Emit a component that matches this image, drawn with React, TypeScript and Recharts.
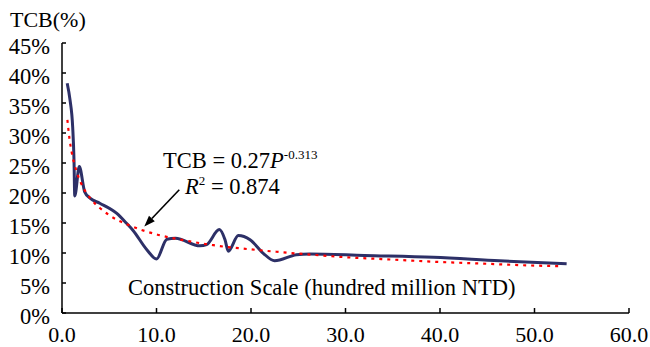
import React from "react";
import { LineChart, Line, XAxis, YAxis, ReferenceLine } from "recharts";

// construction scale (hundred million NTD) and TCB (%) along the observed curve
const scaleX = [0.55, 0.85, 1.13, 1.27, 1.35, 1.83, 2.4, 3.0, 4.0, 5.8, 6.8, 7.5, 9.0, 10.0, 11.1, 12.0, 14.6, 15.3, 16.65, 17.25, 17.6, 18.66, 19.9, 21.3, 22.5, 24.8, 26.2, 32.0, 39.3, 46.3, 53.4];
const tcbPct = [38.3, 35.5, 31.0, 25.5, 19.5, 24.4, 20.2, 19.1, 18.3, 16.6, 15.0, 13.8, 10.5, 9.0, 12.3, 12.45, 11.2, 11.4, 13.9, 12.2, 10.3, 12.9, 12.2, 9.95, 8.7, 9.7, 9.85, 9.6, 9.3, 8.7, 8.2];

// power fit TCB = 0.27 P^-0.313
const fitX = [0.57, 0.8, 1, 1.5, 2, 3, 4, 5, 7, 10, 13, 16, 20, 25, 30, 35, 40, 45, 50, 53];
const fitPct = [32.2, 28.95, 27.0, 23.8, 21.7, 19.1, 17.5, 16.3, 14.7, 13.1, 12.1, 11.3, 10.6, 9.9, 9.3, 8.9, 8.5, 8.2, 7.9, 7.8];

const xTicks = [0, 10, 20, 30, 40, 50, 60];
const yTicks = [0, 5, 10, 15, 20, 25, 30, 35, 40, 45];

// arrow pointing at the fitted curve (tail -> head)
const arrowFrom = { x: 12.41, y: 20.55 };
const arrowTo = { x: 8.71, y: 14.43 };

const curve = scaleX.map((x, i) => ({ x, y: tcbPct[i] }));
const fit = fitX.map((x, i) => ({ x, y: fitPct[i] }));

const serif = { fontFamily: "Liberation Serif, Times New Roman, serif" };

const XTick = (props: any) => {
  const { x, y, payload } = props;
  return (
    <g>
      <line x1={x} y1={y} x2={x} y2={y - 5} stroke="#000" strokeWidth={1.5} />
      <text x={x} y={y + 29} textAnchor="middle" fontSize={22} style={serif} fill="#000">
        {Number(payload.value).toFixed(1)}
      </text>
    </g>
  );
};

const YTick = (props: any) => {
  const { x, y, payload } = props;
  return (
    <g>
      <line x1={x} y1={y} x2={x + 4} y2={y} stroke="#000" strokeWidth={1.5} />
      <text x={x - 12} y={y + 10.5} textAnchor="end" fontSize={22.5} style={serif} fill="#000">
        {payload.value}%
      </text>
    </g>
  );
};

const Arrow = (props: any) => {
  const { x1, y1, x2, y2 } = props;
  const ang = Math.atan2(y2 - y1, x2 - x1);
  const len = 11;
  const half = 4;
  const bx = x2 - len * Math.cos(ang);
  const by = y2 - len * Math.sin(ang);
  const px = -Math.sin(ang) * half;
  const py = Math.cos(ang) * half;
  return (
    <g>
      <line x1={x1} y1={y1} x2={bx} y2={by} stroke="#000" strokeWidth={1.6} />
      <polygon points={`${x2},${y2} ${bx + px},${by + py} ${bx - px},${by - py}`} fill="#000" />
    </g>
  );
};

export default function App() {
  return (
    <div style={{ position: "absolute", left: 0, top: 0, width: 650, height: 347, background: "#fff", ...serif }}>
      <LineChart width={650} height={347} margin={{ top: 43, right: 21, bottom: 0, left: 0 }}>
        <XAxis
          type="number"
          dataKey="x"
          domain={[0, 60]}
          ticks={xTicks}
          height={34}
          tickSize={0}
          tickMargin={0}
          tickLine={false}
          axisLine={{ stroke: "#000", strokeWidth: 1.5 }}
          tick={<XTick />}
        />
        <YAxis
          type="number"
          domain={[0, 45]}
          ticks={yTicks}
          width={62}
          tickSize={0}
          tickMargin={0}
          tickLine={false}
          axisLine={{ stroke: "#000", strokeWidth: 1.5 }}
          tick={<YTick />}
        />
        <Line
          data={curve}
          dataKey="y"
          type="monotone"
          stroke="#2D3067"
          strokeWidth={3}
          dot={false}
          isAnimationActive={false}
        />
        <Line
          data={fit}
          dataKey="y"
          type="monotone"
          stroke="#FF0000"
          strokeWidth={2.2}
          strokeDasharray="3 5"
          dot={false}
          isAnimationActive={false}
        />
        <ReferenceLine segment={[arrowFrom, arrowTo]} shape={<Arrow />} />
      </LineChart>
      <svg width={650} height={347} style={{ position: "absolute", left: 0, top: 0, pointerEvents: "none", ...serif }}>
        <text x={10} y={27} fontSize={22} style={serif} fill="#000">TCB(%)</text>
        <text x={128} y={295} fontSize={22.5} style={serif} fill="#000">
          Construction Scale (hundred million NTD)
        </text>
        <text x={163} y={167.5} fontSize={22.5} style={serif} fill="#000">
          <tspan>TCB = 0.27</tspan>
          <tspan fontStyle="italic">P</tspan>
          <tspan fontSize={13} dy={-9}>-0.313</tspan>
        </text>
        <text x={185} y={193.5} fontSize={22.5} style={serif} fill="#000">
          <tspan fontStyle="italic">R</tspan>
          <tspan fontSize={13} dy={-9}>2</tspan>
          <tspan dy={9}> = 0.874</tspan>
        </text>
      </svg>
    </div>
  );
}
